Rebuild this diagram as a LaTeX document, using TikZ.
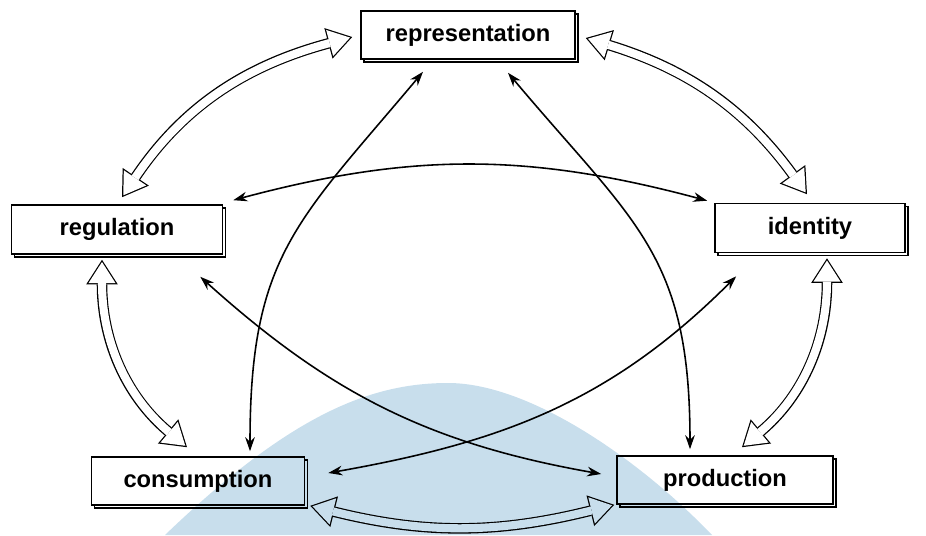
\documentclass[tikz,border=0pt]{standalone}
\usepackage{fontspec}
\setsansfont{Liberation Sans}
\usetikzlibrary{arrows.meta,shadows}
\definecolor{wmblue}{RGB}{200,222,236}

\begin{document}
\begin{tikzpicture}[box/.style={draw, fill=white, line width=0.9pt, inner sep=0pt, font=\sffamily\bfseries\fontsize{13.5}{16}\selectfont, copy shadow={shadow xshift=1.7pt, shadow yshift=-1.7pt}}, link/.style={line width=0.9pt, {Stealth[length=8pt,width=5.5pt]}-{Stealth[length=8pt,width=5.5pt]}}, hollow/.style={draw=black, line width=6pt, {Triangle[length=14pt,width=18pt,line width=0pt]}-{Triangle[length=14pt,width=18pt,line width=0pt]}, postaction={draw=white, line width=4.6pt, {Triangle[length=12pt,width=15.4pt,line width=0pt]}-{Triangle[length=12pt,width=15.4pt,line width=0pt]}, shorten <=1.28pt, shorten >=1.28pt}}]
\useasboundingbox (0,0) rectangle (18.52,10.7);
\node[box, minimum width=4.28cm, minimum height=0.96cm] (representation) at (9.36,10.0) {representation};
\node[box, minimum width=4.22cm, minimum height=0.98cm] (regulation) at (2.34,6.11) {regulation};
\node[box, minimum width=3.8cm, minimum height=0.98cm] (identity) at (16.2,6.14) {identity};
\node[box, minimum width=4.26cm, minimum height=0.96cm] (consumption) at (3.96,1.08) {consumption};
\node[box, minimum width=4.32cm, minimum height=0.96cm] (production) at (14.5,1.1) {production};
\draw[hollow] ([xshift=0.1cm,yshift=0.14cm]regulation.north) to[out=56,in=195] ([xshift=-0.16cm,yshift=-0.04cm]representation.west);
\draw[hollow] ([xshift=-0.06cm,yshift=0.17cm]identity.north) to[out=126,in=-17] ([xshift=0.2cm,yshift=-0.06cm]representation.east);
\draw[hollow] ([xshift=-0.3cm,yshift=-0.1cm]regulation.south) to[out=-90,in=140] ([xshift=-0.22cm,yshift=0.18cm]consumption.north);
\draw[hollow] ([xshift=0.34cm,yshift=-0.1cm]identity.south) to[out=-90,in=40] ([xshift=0.34cm,yshift=0.16cm]production.north);
\draw[hollow] ([xshift=0.1cm]consumption.south east) to[out=-14,in=194] ([xshift=-0.04cm]production.south west);
\path[link]
([xshift=1.04cm,yshift=0.1cm]consumption.north) edge[out=90,in=230,looseness=1.2] ([xshift=-0.9cm,yshift=-0.24cm]representation.south)
([xshift=-0.7cm,yshift=0.12cm]production.north) edge[out=90,in=-50,looseness=1.2] ([xshift=0.8cm,yshift=-0.26cm]representation.south)
([shift={(0.2,0.08)}]regulation.north east) edge[out=15,in=165] ([shift={(-0.14,0.04)}]identity.north west)
([shift={(-0.46,-0.44)}]regulation.south east) edge[out=-42,in=170] ([shift={(-0.3,0.12)}]production.west)
([shift={(0.44,-0.46)}]identity.south west) edge[out=-135,in=10] ([shift={(0.46,0.16)}]consumption.east);
\begin{scope}[blend mode=multiply]
\fill[wmblue] (3.3,0) .. controls (5.8,2.4) and (7.4,3.04) .. (8.96,3.04) .. controls (10.6,3.04) and (12.8,1.5) .. (14.24,0) -- cycle;
\end{scope}
\end{tikzpicture}
\end{document}
